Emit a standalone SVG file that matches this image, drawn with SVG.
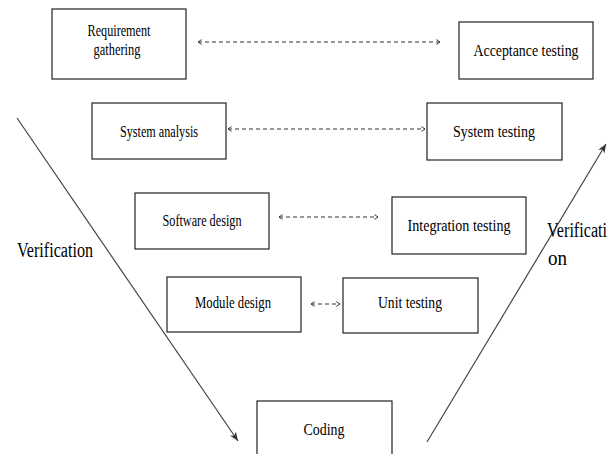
<svg xmlns="http://www.w3.org/2000/svg" width="615" height="454" viewBox="0 0 615 454">
<style>
.box{fill:#fff;stroke:#222;stroke-width:1.2}
.lbl{font-family:"Liberation Serif","Times New Roman",serif;font-size:17px;fill:#000;text-anchor:middle}
.side{font-family:"Liberation Serif","Times New Roman",serif;font-size:20px;fill:#000}
.dash{stroke:#333;stroke-width:1;stroke-dasharray:4 3;fill:none;marker-start:url(#open);marker-end:url(#open)}
.diag{stroke:#444;stroke-width:1.2;fill:none;marker-end:url(#solid)}
</style>
<defs>
<marker id="open" viewBox="0 0 10 10" refX="9" refY="5" markerWidth="6" markerHeight="6" orient="auto-start-reverse" markerUnits="userSpaceOnUse">
<path d="M3,1 L9,5 L3,9" fill="none" stroke="#333" stroke-width="1.6"/>
</marker>
<marker id="solid" viewBox="0 0 10 10" refX="10" refY="5" markerWidth="9" markerHeight="9" orient="auto" markerUnits="userSpaceOnUse">
<path d="M0,1 L10,5 L0,9 L3,5 Z" fill="#333"/>
</marker>
</defs>
<rect width="615" height="454" fill="#fff"/>
<g id="connectors">
<line class="dash" x1="198" y1="42" x2="440" y2="42"/>
<line class="dash" x1="228" y1="129" x2="425" y2="129"/>
<line class="dash" x1="279" y1="217" x2="378" y2="217"/>
<line class="dash" x1="311" y1="304" x2="340" y2="304"/>
<line class="diag" x1="17" y1="118" x2="238" y2="441"/>
<line class="diag" x1="427" y1="442" x2="606" y2="144"/>
</g>
<g id="requirement-gathering">
<rect class="box" x="52" y="9" width="134" height="70"/>
<text class="lbl" x="119" y="36" textLength="63" lengthAdjust="spacingAndGlyphs">Requirement</text>
<text class="lbl" x="117" y="55" textLength="47" lengthAdjust="spacingAndGlyphs">gathering</text>
</g>
<g id="acceptance-testing">
<rect class="box" x="459" y="22" width="134" height="57"/>
<text class="lbl" x="526" y="56" textLength="105" lengthAdjust="spacingAndGlyphs">Acceptance testing</text>
</g>
<g id="system-analysis">
<rect class="box" x="92" y="103" width="134" height="56"/>
<text class="lbl" x="159" y="137" textLength="78" lengthAdjust="spacingAndGlyphs">System analysis</text>
</g>
<g id="system-testing">
<rect class="box" x="427" y="103" width="135" height="57"/>
<text class="lbl" x="494" y="137" textLength="82" lengthAdjust="spacingAndGlyphs">System testing</text>
</g>
<g id="software-design">
<rect class="box" x="135" y="193" width="134" height="56"/>
<text class="lbl" x="202" y="226" textLength="79" lengthAdjust="spacingAndGlyphs">Software design</text>
</g>
<g id="integration-testing">
<rect class="box" x="392" y="197" width="134" height="57"/>
<text class="lbl" x="459" y="231" textLength="103" lengthAdjust="spacingAndGlyphs">Integration testing</text>
</g>
<g id="module-design">
<rect class="box" x="167" y="277" width="134" height="55"/>
<text class="lbl" x="233" y="308" textLength="76" lengthAdjust="spacingAndGlyphs">Module design</text>
</g>
<g id="unit-testing">
<rect class="box" x="343" y="278" width="135" height="55"/>
<text class="lbl" x="410" y="308" textLength="64" lengthAdjust="spacingAndGlyphs">Unit testing</text>
</g>
<g id="coding">
<rect class="box" x="257" y="401" width="135" height="60"/>
<text class="lbl" x="324" y="435" textLength="41" lengthAdjust="spacingAndGlyphs">Coding</text>
</g>
<g id="verification-left">
<text class="side" x="17" y="257" textLength="76" lengthAdjust="spacingAndGlyphs">Verification</text>
</g>
<g id="verification-right">
<text class="side" x="547" y="237" textLength="60" lengthAdjust="spacingAndGlyphs">Verificati</text>
<text class="side" x="548" y="265" textLength="19" lengthAdjust="spacingAndGlyphs">on</text>
</g>
</svg>
